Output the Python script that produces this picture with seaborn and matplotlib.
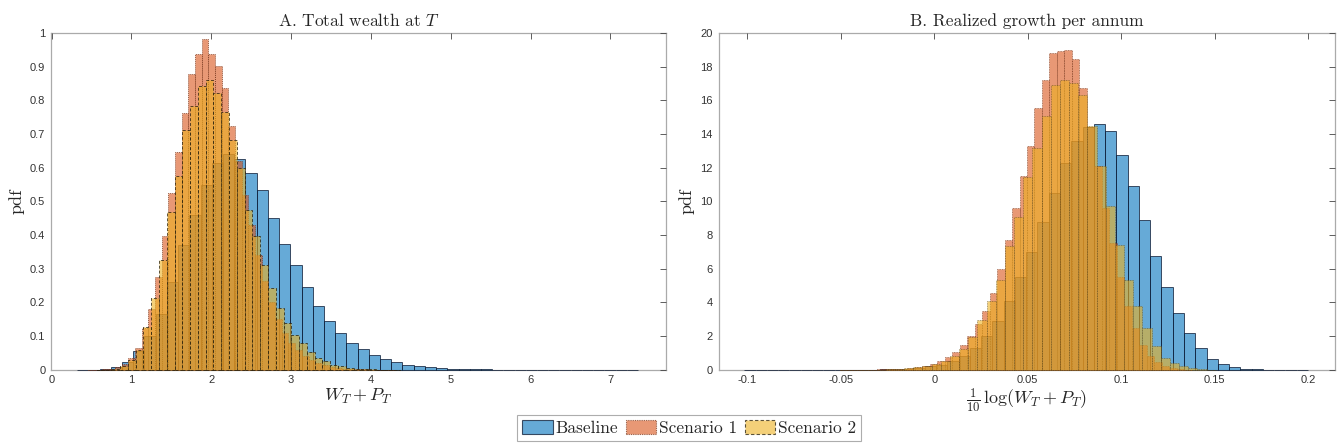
import numpy as np
import pandas as pd
import matplotlib
matplotlib.use("Agg")
import matplotlib.pyplot as plt
import seaborn as sns
from matplotlib.patches import Patch
from matplotlib.colors import to_rgba

# ---------------- data (pdf heights) ----------------
# Panel A: total wealth at T
a_base_start, a_base_width = 0.32, 0.1405
a_base = [0.0003, 0.0008, 0.003, 0.008, 0.022, 0.055, 0.10, 0.165, 0.26, 0.37,
          0.46, 0.55, 0.615, 0.64, 0.625, 0.583, 0.533, 0.452, 0.372, 0.31,
          0.245, 0.19, 0.145, 0.11, 0.081, 0.062, 0.043, 0.032, 0.022, 0.015,
          0.012, 0.008, 0.006, 0.004, 0.003, 0.002, 0.0015, 0.001, 0.0008, 0.0006,
          0.0005, 0.0004, 0.0003, 0.0003, 0.0002, 0.0002, 0.0001, 0.0001, 0.0001, 0.0001]
a_s1_start, a_s1_width = 0.459, 0.0836
a_s1 = [0.0005, 0.001, 0.002, 0.004, 0.008, 0.018, 0.035, 0.065, 0.125, 0.180,
        0.275, 0.396, 0.525, 0.645, 0.762, 0.879, 0.938, 0.982, 0.938, 0.903,
        0.837, 0.725, 0.62, 0.52, 0.43, 0.34, 0.265, 0.2, 0.15, 0.11,
        0.08, 0.058, 0.04, 0.028, 0.019, 0.013, 0.009, 0.006, 0.004, 0.003,
        0.002, 0.0015, 0.001, 0.0008, 0.0005, 0.0003]
a_s2_start, a_s2_width = 0.565, 0.0975
a_s2 = [0.0005, 0.001, 0.004, 0.012, 0.03, 0.06, 0.126, 0.213, 0.327, 0.467,
        0.576, 0.713, 0.784, 0.841, 0.861, 0.822, 0.764, 0.683, 0.60, 0.475,
        0.396, 0.312, 0.243, 0.183, 0.139, 0.104, 0.079, 0.054, 0.035, 0.025,
        0.015, 0.01, 0.006, 0.004, 0.0025, 0.0015, 0.001, 0.0006, 0.0004]

# Panel B: realized growth per annum
b_base_start, b_base_width = -0.1016, 0.00603
b_base = [0.0005, 0.0005, 0.0008, 0.001, 0.001, 0.0015, 0.002, 0.003, 0.005, 0.008,
          0.012, 0.02, 0.03, 0.05, 0.08, 0.12, 0.2, 0.3, 0.5, 0.8,
          1.3, 2.0, 2.9, 4.1, 5.5, 7.0, 8.75, 10.5, 12.3, 13.6,
          14.4, 14.6, 14.2, 12.73, 10.89, 8.87, 6.77, 4.91, 3.37, 2.18,
          1.29, 0.65, 0.36, 0.16, 0.06, 0.03, 0.01, 0.005, 0.002, 0.001]
b_s1_start, b_s1_width = -0.0504, 0.0040
b_s1 = [0.002, 0.003, 0.005, 0.008, 0.014, 0.022, 0.035, 0.055, 0.08, 0.12,
        0.17, 0.25, 0.36, 0.52, 0.75, 1.05, 1.45, 2.0, 2.7, 3.5,
        4.56, 5.98, 7.72, 9.61, 11.49, 13.27, 15.55, 17.23, 18.82, 18.92,
        19.01, 18.46, 16.74, 14.4, 12.1, 9.6, 7.5, 5.5, 3.8, 2.5,
        1.5, 0.85, 0.45, 0.22, 0.1, 0.04, 0.015]
b_s2_start, b_s2_width = -0.0504, 0.0049
b_s2 = [0.002, 0.004, 0.007, 0.012, 0.02, 0.033, 0.055, 0.09, 0.14, 0.22,
        0.34, 0.52, 0.8, 1.25, 1.95, 2.95, 4.06, 5.35, 7.33, 9.07,
        11.43, 13.17, 15.09, 16.93, 17.19, 17.03, 16.34, 14.46, 12.08, 9.7,
        7.43, 5.35, 3.76, 2.48, 1.39, 0.69, 0.4, 0.2, 0.09, 0.04, 0.015]

series_names = ["Baseline", "Scenario 1", "Scenario 2"]

a_xticks = [0, 1, 2, 3, 4, 5, 6, 7]
a_xticklabels = ["0", "1", "2", "3", "4", "5", "6", "7"]
a_yticks = [0, 0.1, 0.2, 0.3, 0.4, 0.5, 0.6, 0.7, 0.8, 0.9, 1.0]
a_yticklabels = ["0", "0.1", "0.2", "0.3", "0.4", "0.5", "0.6", "0.7", "0.8", "0.9", "1"]
b_xticks = [-0.1, -0.05, 0, 0.05, 0.1, 0.15, 0.2]
b_xticklabels = ["-0.1", "-0.05", "0", "0.05", "0.1", "0.15", "0.2"]
b_yticks = [0, 2, 4, 6, 8, 10, 12, 14, 16, 18, 20]
b_yticklabels = ["0", "2", "4", "6", "8", "10", "12", "14", "16", "18", "20"]

# ---------------- style ----------------
sns.set_theme(style="white")
plt.rcParams["font.family"] = ["Liberation Sans", "DejaVu Sans"]
plt.rcParams["mathtext.fontset"] = "cm"
plt.rcParams["axes.unicode_minus"] = False

colors = [(0.0, 0.447, 0.741), (0.850, 0.325, 0.098), (0.929, 0.694, 0.125)]
FALPHA = 0.6
SERIF = ["cmr10", "DejaVu Serif"]


def draw_hist(ax, start, width, heights, color, edgecolor, ls, lw):
    n = len(heights)
    edges = start + width * np.arange(n + 1)
    centers = edges[:-1] + width / 2
    df = pd.DataFrame({"x": centers, "w": heights})
    sns.histplot(data=df, x="x", weights="w", bins=list(edges), stat="count",
                 ax=ax, facecolor=to_rgba(color, FALPHA), edgecolor=edgecolor,
                 linewidth=lw, linestyle=ls, clip_on=False)


fig = plt.figure(figsize=(13.38, 4.44), dpi=100)
axA = fig.add_axes([0.038, 0.167, 0.460, 0.759])
axB = fig.add_axes([0.537, 0.167, 0.461, 0.759])

edge_base = (0.05, 0.1, 0.2, 0.75)
edge_s1 = (0.45, 0.2, 0.1, 0.7)
edge_s2 = (0.15, 0.12, 0.05, 0.75)

draw_hist(axA, a_base_start, a_base_width, a_base, colors[0], edge_base, "-", 0.7)
draw_hist(axA, a_s1_start, a_s1_width, a_s1, colors[1], edge_s1, (0, (1, 1)), 0.7)
draw_hist(axA, a_s2_start, a_s2_width, a_s2, colors[2], edge_s2, (0, (3, 2)), 0.7)

draw_hist(axB, b_base_start, b_base_width, b_base, colors[0], edge_base, "-", 0.7)
draw_hist(axB, b_s1_start, b_s1_width, b_s1, colors[1], edge_s1, (0, (1, 1)), 0.6)
draw_hist(axB, b_s2_start, b_s2_width, b_s2, colors[2], (0.3, 0.25, 0.1, 0.6), (0, (1, 1)), 0.6)

for ax, xt, xtl, yt, ytl, xlim, ylim in [
    (axA, a_xticks, a_xticklabels, a_yticks, a_yticklabels, (-0.01, 7.7), (0, 1)),
    (axB, b_xticks, b_xticklabels, b_yticks, b_yticklabels, (-0.1154, 0.2145), (0, 20)),
]:
    ax.set_xlim(*xlim)
    ax.set_ylim(*ylim)
    ax.set_xticks(xt)
    ax.set_xticklabels(xtl)
    ax.set_yticks(yt)
    ax.set_yticklabels(ytl)
    ax.tick_params(direction="in", top=True, right=True, length=4, width=0.6,
                   color="#444444", labelsize=8, labelcolor="#333333", pad=4)
    for s in ax.spines.values():
        s.set_color("#aaaaaa")
        s.set_linewidth(0.9)
        s.set_zorder(0.5)
    ax.set_ylabel("pdf", family=SERIF, fontsize=13, labelpad=4)

axA.set_title("A. Total wealth at $T$", family=SERIF, fontsize=12.5, pad=5)
axB.set_title("B. Realized growth per annum", family=SERIF, fontsize=12.5, pad=5)
axA.set_xlabel("$W_T + P_T$", fontsize=13, labelpad=1)
axB.set_xlabel(r"$\frac{1}{10}\,\log(W_T + P_T)$", fontsize=13, labelpad=1)

handles = [
    Patch(facecolor=to_rgba(colors[0], FALPHA), edgecolor=edge_base, linewidth=0.8, linestyle="-"),
    Patch(facecolor=to_rgba(colors[1], FALPHA), edgecolor=edge_s1, linewidth=0.8, linestyle=(0, (1, 1))),
    Patch(facecolor=to_rgba(colors[2], FALPHA), edgecolor=edge_s2, linewidth=0.8, linestyle=(0, (3, 2))),
]
leg = fig.legend(handles, series_names, loc="lower center", bbox_to_anchor=(0.515, 0.006),
                 ncol=3, frameon=True, fancybox=False, edgecolor="#999999",
                 prop={"family": SERIF, "size": 12.5}, handlelength=1.75, handleheight=0.8,
                 handletextpad=0.15, columnspacing=0.45, borderpad=0.3, borderaxespad=0.0)
leg.get_frame().set_linewidth(0.8)

fig.savefig("out.png", dpi=100)
